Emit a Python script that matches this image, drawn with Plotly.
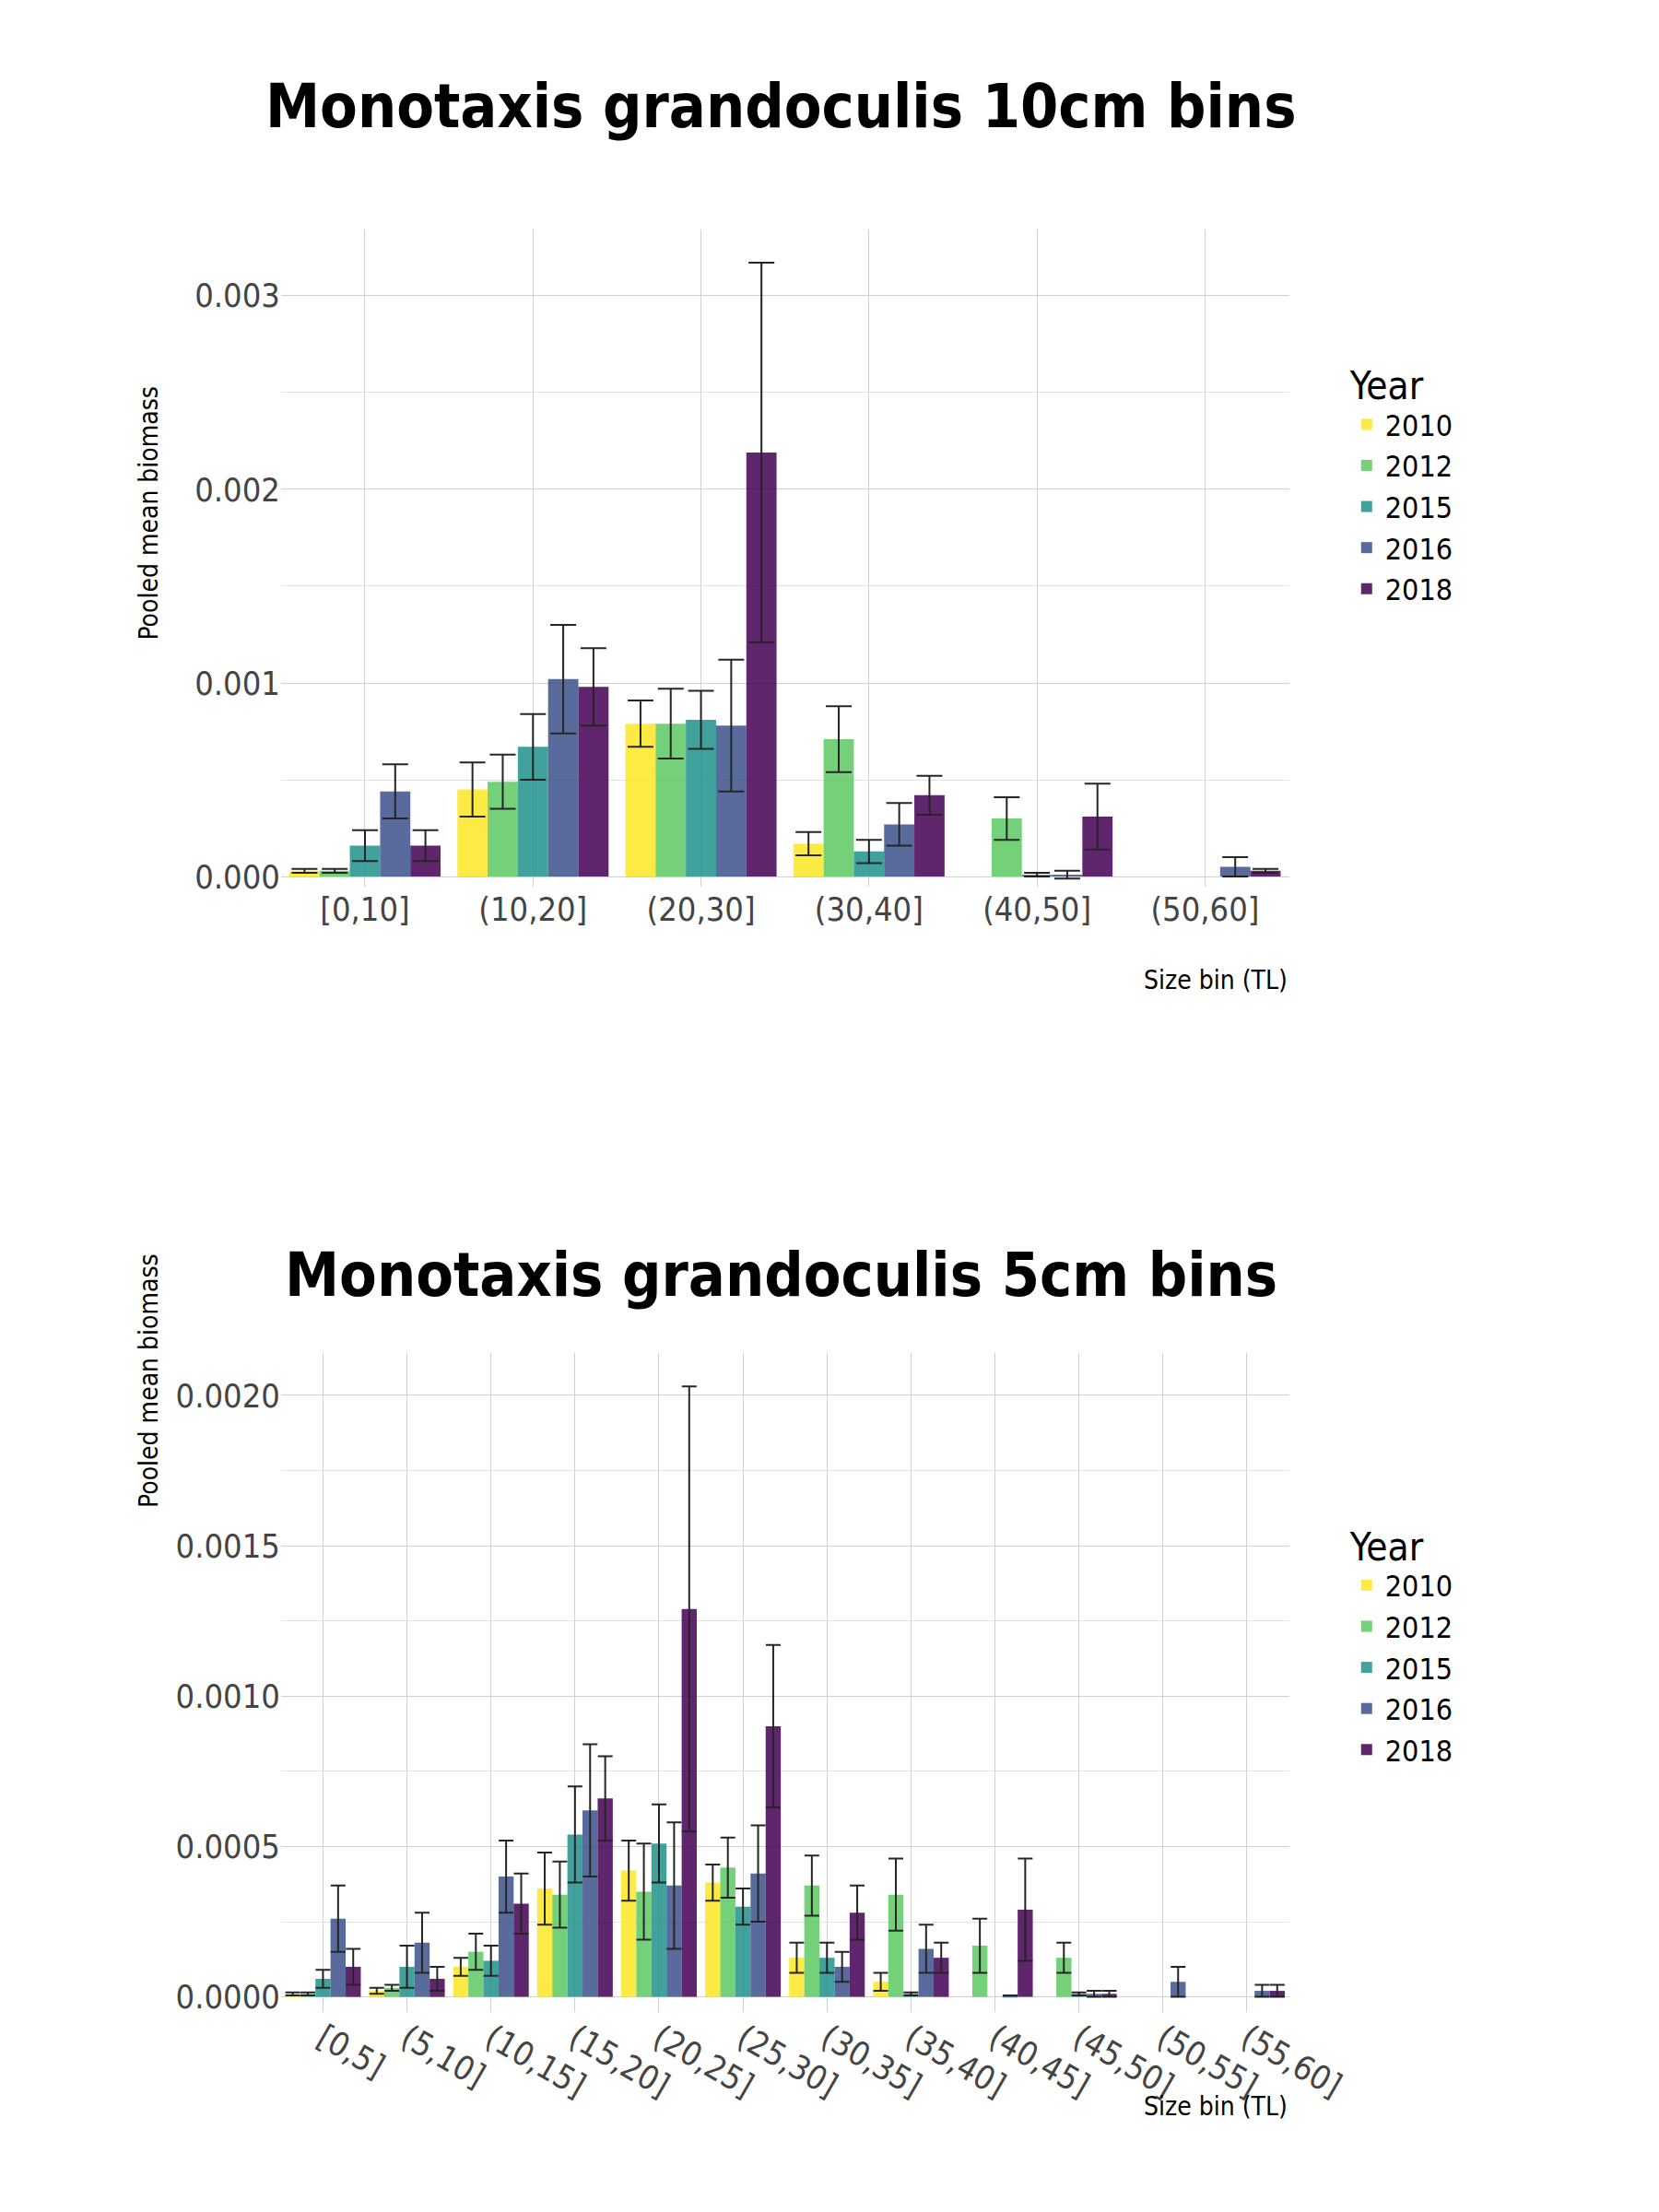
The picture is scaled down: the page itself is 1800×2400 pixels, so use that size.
import plotly.graph_objects as go

years = ["2010", "2012", "2015", "2016", "2018"]
colors = ["#FDE725", "#5EC962", "#21918C", "#3B528B", "#440154"]

bins10 = ["[0,10]", "(10,20]", "(20,30]", "(30,40]", "(40,50]", "(50,60]"]
mean10 = {
    "2010": [0.00003, 0.00045, 0.00079, 0.00017, None, None],
    "2012": [0.00003, 0.00049, 0.00079, 0.00071, 0.00030, None],
    "2015": [0.00016, 0.00067, 0.00081, 0.00013, 0.00001, None],
    "2016": [0.00044, 0.00102, 0.00078, 0.00027, 0.00001, 0.00005],
    "2018": [0.00016, 0.00098, 0.00219, 0.00042, 0.00031, 0.00003],
}
err10 = {
    "2010": [0.00001, 0.00014, 0.00012, 0.00006, 0, 0],
    "2012": [0.00001, 0.00014, 0.00018, 0.00017, 0.00011, 0],
    "2015": [0.00008, 0.00017, 0.00015, 0.00006, 0.00001, 0],
    "2016": [0.00014, 0.00028, 0.00034, 0.00011, 0.00002, 0.00005],
    "2018": [0.00008, 0.00020, 0.00098, 0.00010, 0.00017, 0.00001],
}

bins5 = ["[0,5]", "(5,10]", "(10,15]", "(15,20]", "(20,25]", "(25,30]",
         "(30,35]", "(35,40]", "(40,45]", "(45,50]", "(50,55]", "(55,60]"]
mean5 = {
    "2010": [0.00001, 0.00002, 0.00010, 0.00036, 0.00042, 0.00038, 0.00013, 0.00005, None, None, None, None],
    "2012": [0.00001, 0.00003, 0.00015, 0.00034, 0.00035, 0.00043, 0.00037, 0.00034, 0.00017, 0.00013, None, None],
    "2015": [0.00006, 0.00010, 0.00012, 0.00054, 0.00051, 0.00030, 0.00013, 0.00001, None, 0.00001, None, None],
    "2016": [0.00026, 0.00018, 0.00040, 0.00062, 0.00037, 0.00041, 0.00010, 0.00016, 0.000005, 0.00001, 0.00005, 0.00002],
    "2018": [0.00010, 0.00006, 0.00031, 0.00066, 0.00129, 0.00090, 0.00028, 0.00013, 0.00029, 0.00001, None, 0.00002],
}
err5 = {
    "2010": [0.000005, 0.00001, 0.00003, 0.00012, 0.00010, 0.00006, 0.00005, 0.00003, 0, 0, 0, 0],
    "2012": [0.000005, 0.00001, 0.00006, 0.00011, 0.00016, 0.00010, 0.00010, 0.00012, 0.00009, 0.00005, 0, 0],
    "2015": [0.00003, 0.00007, 0.00005, 0.00016, 0.00013, 0.00006, 0.00005, 0.000005, 0, 0.000005, 0, 0],
    "2016": [0.00011, 0.00010, 0.00012, 0.00022, 0.00021, 0.00016, 0.00005, 0.00008, 0, 0.00001, 0.00005, 0.00002],
    "2018": [0.00006, 0.00004, 0.00010, 0.00014, 0.00074, 0.00027, 0.00009, 0.00005, 0.00017, 0.00001, 0, 0.00002],
}

FONT = "Liberation Sans Narrow, DejaVu Sans Condensed, Liberation Sans"
fig = go.Figure()

for i, y in enumerate(years):
    fig.add_trace(go.Bar(x=bins10, y=mean10[y], name=y, marker_color=colors[i], opacity=0.85,
                         marker_line_width=0,
                         error_y=dict(type="data", array=err10[y], color="black", thickness=2, width=14),
                         xaxis="x", yaxis="y", legend="legend"))
for i, y in enumerate(years):
    fig.add_trace(go.Bar(x=bins5, y=mean5[y], name=y, marker_color=colors[i], opacity=0.85,
                         marker_line_width=0,
                         error_y=dict(type="data", array=err5[y], color="black", thickness=2, width=8),
                         xaxis="x2", yaxis="y2", legend="legend2"))

ax = dict(showgrid=True, gridcolor="#d0d0d0", zeroline=False, showline=False,
          tickfont=dict(size=36, color="#444"), ticks="")
fig.update_layout(
    width=1800, height=2400, paper_bgcolor="white", plot_bgcolor="white",
    font=dict(family=FONT, color="black"), barmode="group", bargap=0.1, bargroupgap=0,
    margin=dict(l=0, r=0, t=0, b=0),
    xaxis=dict(domain=[0.171, 0.801], anchor="y", **ax),
    yaxis=dict(domain=[0.601, 0.899], anchor="x", range=[-0.00005, 0.00334],
               tickvals=[0, 0.001, 0.002, 0.003], ticktext=["0.000", "0.001", "0.002", "0.003"],
               minor=dict(showgrid=True, gridcolor="#e2e2e2", dtick=0.0005), **ax),
    xaxis2=dict(domain=[0.171, 0.801], anchor="y2", **ax),
    yaxis2=dict(domain=[0.090, 0.389], anchor="x2", range=[-0.00005, 0.00214],
                tickvals=[0, 0.0005, 0.001, 0.0015, 0.002],
                ticktext=["0.0000", "0.0005", "0.0010", "0.0015", "0.0020"],
                minor=dict(showgrid=True, gridcolor="#e2e2e2", dtick=0.00025), **ax),
    legend=dict(x=0.838, y=0.845, xanchor="left", yanchor="top", title=dict(text="Year", font=dict(size=42)),
                font=dict(size=32), itemsizing="constant", tracegroupgap=30),
    legend2=dict(x=0.838, y=0.318, xanchor="left", yanchor="top", title=dict(text="Year", font=dict(size=42)),
                 font=dict(size=32), itemsizing="constant", tracegroupgap=30),
    annotations=[
        dict(text="<b>Monotaxis grandoculis 10cm bins</b>", x=0.16, y=0.955, xref="paper", yref="paper",
             xanchor="left", yanchor="middle", showarrow=False, font=dict(size=66, color="black")),
        dict(text="<b>Monotaxis grandoculis 5cm bins</b>", x=0.172, y=0.4245, xref="paper", yref="paper",
             xanchor="left", yanchor="middle", showarrow=False, font=dict(size=66, color="black")),
        dict(text="Pooled mean biomass", x=0.078, y=0.829, xref="paper", yref="paper", textangle=-90,
             showarrow=False, font=dict(size=28)),
        dict(text="Pooled mean biomass", x=0.078, y=0.318, xref="paper", yref="paper", textangle=-90,
             showarrow=False, font=dict(size=28)),
        dict(text="Size bin (TL)", x=0.801, y=0.566, xref="paper", yref="paper", xanchor="right",
             yanchor="top", showarrow=False, font=dict(size=28)),
        dict(text="Size bin (TL)", x=0.801, y=0.055, xref="paper", yref="paper", xanchor="right",
             yanchor="top", showarrow=False, font=dict(size=28)),
    ],
)
fig.write_html("out.html")
